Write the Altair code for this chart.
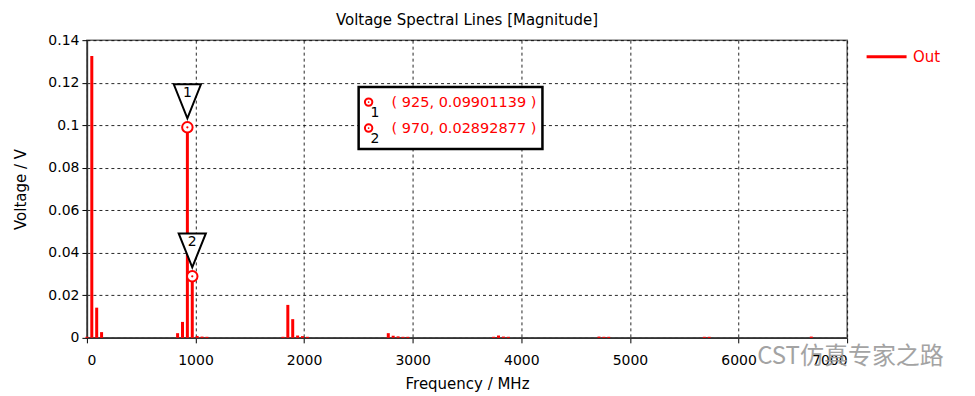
import altair as alt
import pandas as pd

# ---- data ----
freq = [0, 45, 90, 135, 835, 880, 925, 970, 1015, 1060, 1105,
        1805, 1850, 1895, 1940, 1985, 2030,
        2775, 2820, 2865, 2910, 2955,
        3745, 3790, 3835, 3880,
        4715, 4760, 4805,
        5685, 5730, 6670]
mag = [0.0005, 0.1325, 0.0142, 0.0027, 0.0022, 0.0075, 0.09901139, 0.02892877, 0.0009, 0.0006, 0.0005,
       0.0005, 0.0155, 0.0088, 0.0011, 0.0008, 0.0005,
       0.0022, 0.0010, 0.0007, 0.0005, 0.0005,
       0.0005, 0.0011, 0.0006, 0.0005,
       0.0006, 0.0005, 0.0005,
       0.0005, 0.0005, 0.0006]
series_name = ["Out"]
marker_freq = [925, 970]
marker_mag = [0.09901139, 0.02892877]
marker_id = ["1", "2"]
marker_text = ["( 925, 0.09901139 )", "( 970, 0.02892877 )"]
x_ticks = [0, 1000, 2000, 3000, 4000, 5000, 6000, 7000]
y_ticks = [0, 0.02, 0.04, 0.06, 0.08, 0.1, 0.12, 0.14]
title_text = "Voltage Spectral Lines [Magnitude]"
watermark = "CST仿真专家之路"

W, H = 761, 298
FONT = "DejaVu Sans"
RED = "#ff0000"

df = pd.DataFrame({"f": freq, "v": mag, "series": series_name[0]})
mk = pd.DataFrame({"f": marker_freq, "v": marker_mag, "id": marker_id})

x = alt.X("f:Q", scale=alt.Scale(domain=[0, 7000], nice=False, zero=False),
          axis=alt.Axis(values=x_ticks, format="d", title="Frequency / MHz"))
y = alt.Y("v:Q", scale=alt.Scale(domain=[0, 0.14], nice=False),
          axis=alt.Axis(values=y_ticks, format="~g", title="Voltage / V"))

bars = alt.Chart(df).mark_rule(strokeWidth=3).encode(
    x=x, y=y, y2=alt.datum(0),
    color=alt.Color("series:N", scale=alt.Scale(domain=series_name, range=[RED]),
                    legend=alt.Legend(orient="none", legendX=779, legendY=-5, title=None,
                                      symbolType="stroke", symbolSize=1600, symbolStrokeWidth=3,
                                      labelColor=RED, labelFontSize=15, labelFont=FONT,
                                      labelOffset=5, padding=0)))

tri = alt.Chart(mk).mark_point(shape="M -0.8 -1 L 0.8 -1 L 0 1 Z", filled=True, fill="white",
                               stroke="black", strokeWidth=2, size=1156, yOffset=-26,
                               opacity=1).encode(x="f:Q", y="v:Q")
tri_txt = alt.Chart(mk).mark_text(fontSize=14, font=FONT, color="black", yOffset=-34).encode(
    x="f:Q", y="v:Q", text="id:N")
circ = alt.Chart(mk).mark_point(shape="circle", filled=True, fill="white", stroke=RED,
                                strokeWidth=2, size=110, opacity=1).encode(x="f:Q", y="v:Q")
dot = alt.Chart(mk).mark_point(shape="circle", filled=True, color=RED, size=5,
                               opacity=1).encode(x="f:Q", y="v:Q")

one = pd.DataFrame({"a": [0]})
box = alt.Chart(one).mark_rect(fill="white", stroke="black", strokeWidth=2.5).encode(
    x=alt.value(272), x2=alt.value(456), y=alt.value(47), y2=alt.value(109))

layers = [bars, tri, tri_txt, circ, dot, box]
for i in range(2):
    d = pd.DataFrame({"t": [marker_text[i]], "n": [marker_id[i]]})
    yy = 62 + 26 * i
    layers.append(alt.Chart(d).mark_point(shape="circle", filled=True, fill="white", stroke=RED,
                                          strokeWidth=2, size=55, opacity=1).encode(
        x=alt.value(282), y=alt.value(yy)))
    layers.append(alt.Chart(d).mark_point(shape="circle", filled=True, color=RED, size=3,
                                          opacity=1).encode(x=alt.value(282), y=alt.value(yy)))
    layers.append(alt.Chart(d).mark_text(fontSize=14, font=FONT, color="black", align="left").encode(
        x=alt.value(284), y=alt.value(yy + 11), text="n:N"))
    layers.append(alt.Chart(d).mark_text(fontSize=14.5, font=FONT, color=RED, align="left").encode(
        x=alt.value(305), y=alt.value(yy + 1), text="t:N"))

wm = alt.Chart(pd.DataFrame({"t": [watermark]})).mark_text(
    fontSize=24, font="Noto Sans CJK SC", color="#9a9a9a", align="left", opacity=0.9).encode(
    x=alt.value(671), y=alt.value(317), text="t:N")
layers.append(wm)

chart = alt.layer(*layers).properties(
    width=W, height=H,
    title=alt.TitleParams(title_text, fontSize=15, font=FONT, fontWeight="normal",
                          color="black", anchor="middle", offset=5),
    autosize=alt.AutoSizeParams(type="none"),
    padding={"left": 79, "top": 32, "right": 120, "bottom": 57},
).configure_view(
    stroke="#666666", strokeWidth=1.5
).configure_axis(
    labelFont=FONT, labelFontSize=14, labelColor="black",
    titleFont=FONT, titleFontSize=15, titleFontWeight="normal", titleColor="black",
    gridColor="black", gridDash=[3, 3], gridOpacity=0.85, gridWidth=1,
    domainColor="#333333", domainWidth=1.5, tickColor="black", tickSize=5,
).configure_axisY(
    labelPadding=3, titlePadding=19
).configure_axisX(
    labelPadding=11, titlePadding=9
)

chart.save("out.html", embed_options={"renderer": "svg", "actions": False})
